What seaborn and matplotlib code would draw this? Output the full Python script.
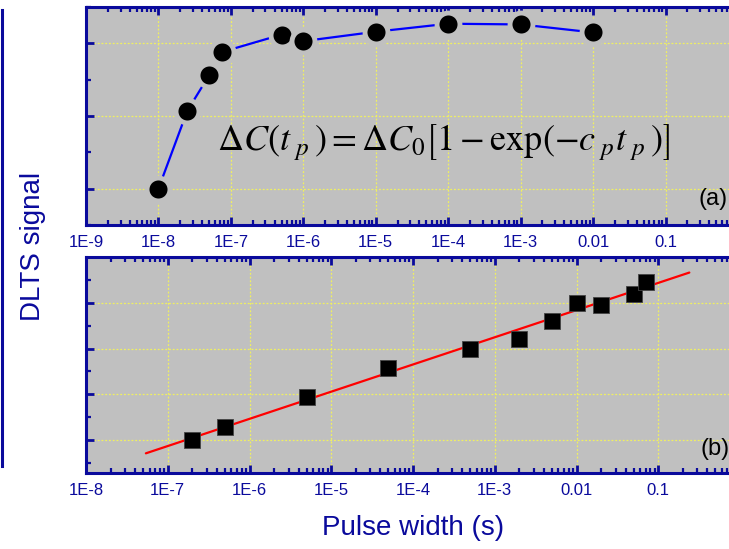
import numpy as np
import pandas as pd
import matplotlib
matplotlib.use("Agg")
import matplotlib.pyplot as plt
from matplotlib.ticker import FixedLocator, FixedFormatter, LogLocator, NullFormatter, MultipleLocator
import seaborn as sns

# ---- data ----
# panel (a): DLTS signal vs pulse width
a_pulse = [1e-8, 2.5e-8, 5e-8, 7.5e-8, 5e-7, 1e-6, 1e-5, 1e-4, 1e-3, 1e-2]
a_signal = [1.00, 2.07, 2.56, 2.88, 3.12, 3.03, 3.16, 3.27, 3.26, 3.15]

# panel (b): DLTS signal vs pulse width (log fit)
b_pulse = [2e-7, 5e-7, 5e-6, 5e-5, 5e-4, 2e-3, 5e-3, 1e-2, 2e-2, 5e-2, 7e-2]
b_signal = [1.00, 1.29, 1.94, 2.57, 2.99, 3.20, 3.60, 3.99, 3.95, 4.19, 4.46]
fit_pulse = [5.4e-8, 0.24]
fit_signal = [0.71, 4.66]

a_ticks = [1e-9, 1e-8, 1e-7, 1e-6, 1e-5, 1e-4, 1e-3, 1e-2, 1e-1, 1]
a_ticklabels = ["1E-9", "1E-8", "1E-7", "1E-6", "1E-5", "1E-4", "1E-3", "0.01", "0.1", ""]
b_ticks = [1e-8, 1e-7, 1e-6, 1e-5, 1e-4, 1e-3, 1e-2, 1e-1, 1]
b_ticklabels = ["1E-8", "1E-7", "1E-6", "1E-5", "1E-4", "1E-3", "0.01", "0.1", ""]

df_a = pd.DataFrame({"pulse": a_pulse, "signal": a_signal})
df_b = pd.DataFrame({"pulse": b_pulse, "signal": b_signal})
df_fit = pd.DataFrame({"pulse": fit_pulse, "signal": fit_signal})

# ---- style ----
sns.set_theme(style="white")
plt.rcParams["font.family"] = ["Liberation Sans", "DejaVu Sans"]
plt.rcParams["mathtext.fontset"] = "stix"

NAVY = "#0a0a9c"
BG = "#c0c0c0"
GRID = "#f0f060"

fig = plt.figure(figsize=(7.29, 5.49), dpi=100)
W, H = 729, 549

def frac_box(l, t, r, b):
    return [l / W, 1 - b / H, (r - l) / W, (b - t) / H]

ax_a = fig.add_axes(frac_box(86, 7, 738, 225))
ax_b = fig.add_axes(frac_box(86, 257, 740, 473))

# remnant of neighbouring panel at left edge
ax_l = fig.add_axes(frac_box(-200, 10, 2, 466))
ax_l.set_xticks([]); ax_l.set_yticks([])
for s in ["top", "bottom", "left"]:
    ax_l.spines[s].set_visible(False)
ax_l.spines["right"].set_color(NAVY)
ax_l.spines["right"].set_linewidth(2.2)
ax_l.patch.set_alpha(0)

def style_axes(ax, ticks, labels, xlim, ylim, ymaj):
    ax.set_facecolor(BG)
    ax.set_xscale("log")
    ax.set_xlim(*xlim)
    ax.set_ylim(*ylim)
    ax.xaxis.set_major_locator(FixedLocator(ticks))
    ax.xaxis.set_major_formatter(FixedFormatter(labels))
    ax.xaxis.set_minor_locator(LogLocator(base=10, subs=np.arange(2, 10)))
    ax.xaxis.set_minor_formatter(NullFormatter())
    ax.yaxis.set_major_locator(FixedLocator(ymaj))
    ax.yaxis.set_minor_locator(MultipleLocator(0.5))
    ax.grid(True, which="major", color=GRID, linestyle=(0, (1.5, 1.5)), linewidth=0.9)
    for s in ax.spines.values():
        s.set_color(NAVY)
        s.set_linewidth(2.2)
    ax.spines["right"].set_visible(False)
    ax.tick_params(which="both", direction="in", color=NAVY, top=True, bottom=True,
                   left=True, right=False, labelleft=False, labelcolor=NAVY)
    ax.tick_params(which="major", length=6, width=2.0, labelsize=12, pad=7)
    ax.tick_params(which="minor", length=3.5, width=1.6)
    ax.set_xlabel("")
    ax.set_ylabel("")

# panel (a)
sns.lineplot(data=df_a, x="pulse", y="signal", ax=ax_a, color="#0000ff", linewidth=1.6,
             marker="o", markersize=16.5, markerfacecolor="black",
             markeredgecolor=BG, markeredgewidth=3.5, zorder=3)
style_axes(ax_a, a_ticks, a_ticklabels, (1e-9, 1.0), (0.5, 3.5), [1, 2, 3])
ax_a.text(0.548, 0.375, r"$\Delta C(t_{\ p}\,) = \Delta C_0\left[1 - \exp(-c_{\ p}t_{\ p}\,)\right]$",
          transform=ax_a.transAxes, ha="center", va="center", fontsize=26, color="black")
ax_a.text(0.94, 0.12, "(a)", transform=ax_a.transAxes, ha="left", va="center",
          fontsize=17, color="black")

# panel (b)
sns.lineplot(data=df_fit, x="pulse", y="signal", ax=ax_b, color="#ff0000", linewidth=1.6, zorder=2)
sns.scatterplot(data=df_b, x="pulse", y="signal", ax=ax_b, marker="s", s=140,
                color="black", edgecolor="#444444", linewidth=0.6, zorder=3)
style_axes(ax_b, b_ticks, b_ticklabels, (1e-8, 1.0), (0.28, 5.0), [1, 2, 3, 4, 5])
ax_b.text(0.94, 0.11, "(b)", transform=ax_b.transAxes, ha="left", va="center",
          fontsize=17, color="black")

fig.text(413 / W, 1 - 528 / H, "Pulse width (s)", ha="center", va="center",
         fontsize=20, color=NAVY)
fig.text(33 / W, 1 - 246 / H, "DLTS signal", ha="center", va="center",
         rotation=90, fontsize=20, color=NAVY)

fig.savefig("out.png", dpi=100)
